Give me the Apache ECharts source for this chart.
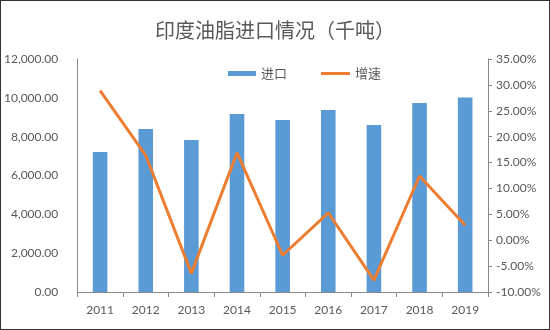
<!DOCTYPE html>
<html><head><meta charset="utf-8">
<script src="https://cdn.jsdelivr.net/npm/echarts@6/dist/echarts.min.js"></script>
<style>html,body{margin:0;padding:0;background:#fff}#c{width:550px;height:330px;box-sizing:border-box;border:1px solid #333}</style>
</head><body><div id="c"></div>
<script>
const categories = ['2011','2012','2013','2014','2015','2016','2017','2018','2019'];
const imports = [7210, 8390, 7830, 9170, 8860, 9370, 8600, 9730, 10020];
const growth = [28.9, 16.4, -6.4, 16.9, -2.9, 5.3, -7.7, 12.4, 2.9];
const title = '印度油脂进口情况（千吨）';
const names = ['进口','增速'];
const txt = '#595959';
const numFont = 'Lato';
const legText = {fontFamily:'Noto Sans CJK SC',fontSize:13,color:txt};
const chart = echarts.init(document.getElementById('c'));
chart.setOption({
  animation:false,
  title:{text:title,left:149,top:14,textStyle:{fontFamily:'Noto Sans CJK SC',fontSize:20,fontWeight:'normal',color:txt}},
  legend:[
    {top:66,left:227,padding:0,itemWidth:28,itemHeight:5,itemTextGap:3,textStyle:legText,data:[{name:names[0],icon:'rect'}]},
    {top:66,left:320,padding:0,itemWidth:29,itemHeight:3,itemTextGap:4,textStyle:legText,data:[{name:names[1],icon:'rect'}]}
  ],
  grid:{left:74,right:61,top:58,bottom:37},
  xAxis:{type:'category',data:categories,
    axisLine:{lineStyle:{color:'#888',width:1}},
    axisTick:{show:true,length:5,lineStyle:{color:'#888'}},
    axisLabel:{color:txt,fontFamily:numFont,fontSize:12,margin:12}},
  yAxis:[{type:'value',min:0,max:12000,interval:2000,
      axisLine:{show:true,lineStyle:{color:'#888'}},axisTick:{show:false},splitLine:{show:false},
      axisLabel:{color:txt,fontFamily:numFont,fontSize:12,margin:19,formatter:v=>v.toLocaleString('en-US',{minimumFractionDigits:2,maximumFractionDigits:2})}},
    {type:'value',min:-10,max:35,interval:5,position:'right',
      axisLine:{show:true,lineStyle:{color:'#888'}},axisTick:{show:true,inside:false,length:4,lineStyle:{color:'#888'}},splitLine:{show:false},
      axisLabel:{color:txt,fontFamily:numFont,fontSize:12,margin:8,formatter:v=>v.toFixed(2)+'%'}}],
  series:[
    {name:names[0],type:'bar',data:imports,barWidth:'32%',itemStyle:{color:'#5B9BD5'}},
    {name:names[1],type:'line',yAxisIndex:1,data:growth,symbol:'none',lineStyle:{color:'#ED7D31',width:3},itemStyle:{color:'#ED7D31'}}
  ]
});
</script></body></html>
